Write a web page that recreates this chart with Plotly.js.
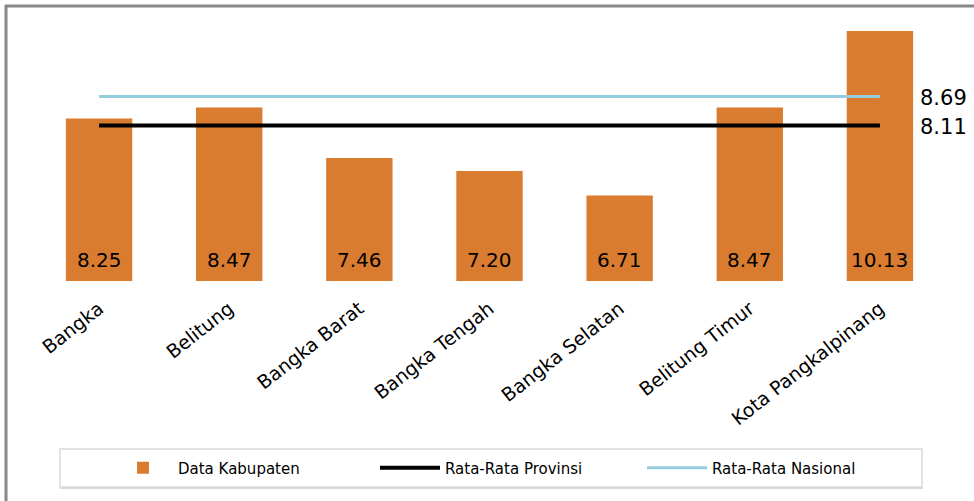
<!DOCTYPE html>
<html>
<head>
<meta charset="utf-8">
<script src="https://cdn.plot.ly/plotly-3.0.1.min.js"></script>
<style>html,body{margin:0;padding:0;background:#fff;}#chart{width:974px;height:501px;}</style>
</head>
<body>
<div id="chart"></div>
<script>
const categories = ["Bangka", "Belitung", "Bangka Barat", "Bangka Tengah", "Bangka Selatan", "Belitung Timur", "Kota Pangkalpinang"];
const kabupatenValues = [8.25, 8.47, 7.46, 7.20, 6.71, 8.47, 10.13];
const provinsiAvg = [8.11, 8.11, 8.11, 8.11, 8.11, 8.11, 8.11];
const nasionalAvg = [8.69, 8.69, 8.69, 8.69, 8.69, 8.69, 8.69];
const seriesNames = ["Data Kabupaten", "Rata-Rata Provinsi", "Rata-Rata Nasional"];

const W = 974, H = 501;
const m = {l: 34, r: 29, t: 31, b: 220, autoexpand: false};
const pw = W - m.l - m.r, ph = H - m.t - m.b;
const px = x => (x - m.l) / pw;
const py = y => (H - m.b - y) / ph;

const traces = [
  {type: 'bar', name: seriesNames[0], x: categories, y: kabupatenValues,
   marker: {color: '#D97C30'}, hoverinfo: 'x+y'},
  {type: 'scatter', mode: 'lines', name: seriesNames[1], x: categories, y: provinsiAvg,
   line: {color: '#000000', width: 4}},
  {type: 'scatter', mode: 'lines', name: seriesNames[2], x: categories, y: nasionalAvg,
   line: {color: '#93CDDD', width: 3}}
];

const annotations = categories.map((c, i) => ({
  x: c, y: 5, xref: 'x', yref: 'y', yanchor: 'bottom', xanchor: 'center', yshift: 7,
  text: kabupatenValues[i].toFixed(2), showarrow: false,
  font: {family: 'DejaVu Sans', size: 20, color: '#000'}
}));
const last = categories[categories.length - 1];
annotations.push({x: last, y: nasionalAvg[nasionalAvg.length - 1], xref: 'x', yref: 'y',
  xanchor: 'left', yanchor: 'middle', xshift: 38, yshift: -1,
  text: nasionalAvg[nasionalAvg.length - 1].toFixed(2), showarrow: false,
  font: {family: 'DejaVu Sans', size: 21, color: '#000'}});
annotations.push({x: last, y: provinsiAvg[provinsiAvg.length - 1], xref: 'x', yref: 'y',
  xanchor: 'left', yanchor: 'middle', xshift: 38, yshift: -1,
  text: provinsiAvg[provinsiAvg.length - 1].toFixed(2), showarrow: false,
  font: {family: 'DejaVu Sans', size: 21, color: '#000'}});

const shapes = [
  {type: 'line', xref: 'paper', yref: 'paper', x0: px(6), x1: px(6), y0: py(5), y1: py(501),
   line: {color: '#888888', width: 3}},
  {type: 'line', xref: 'paper', yref: 'paper', x0: px(5), x1: px(974), y0: py(6), y1: py(6),
   line: {color: '#888888', width: 3}},
  {type: 'rect', xref: 'paper', yref: 'paper', x0: px(60), x1: px(922), y0: py(449), y1: py(487),
   line: {color: '#D9D9D9', width: 1.5}, fillcolor: 'rgba(0,0,0,0)'},
  {type: 'line', xref: 'paper', yref: 'paper', x0: px(60), x1: px(923), y0: py(488), y1: py(488),
   line: {color: '#D9D9D9', width: 2}}
];

const layout = {
  width: W, height: H, margin: m,
  paper_bgcolor: '#fff', plot_bgcolor: '#fff',
  bargap: 0.49,
  showlegend: true,
  legend: {orientation: 'h', x: px(108), xanchor: 'left', y: py(468), yanchor: 'middle',
    font: {family: 'DejaVu Sans', size: 15, color: '#000'}, itemwidth: 60,
    entrywidth: 192, bgcolor: 'rgba(0,0,0,0)', traceorder: 'normal'},
  xaxis: {range: [-0.5, 6.5], autorange: false, showgrid: false, zeroline: false, showline: false, ticks: '',
    tickangle: -38, ticklabelstandoff: 12, automargin: false,
    tickfont: {family: 'DejaVu Sans', size: 19, color: '#000'}},
  yaxis: {range: [5, 10], showgrid: false, zeroline: false, showline: false,
    showticklabels: false, ticks: '', automargin: false},
  annotations: annotations,
  shapes: shapes
};

Plotly.newPlot('chart', traces, layout, {displayModeBar: false, staticPlot: true});
</script>
</body>
</html>
